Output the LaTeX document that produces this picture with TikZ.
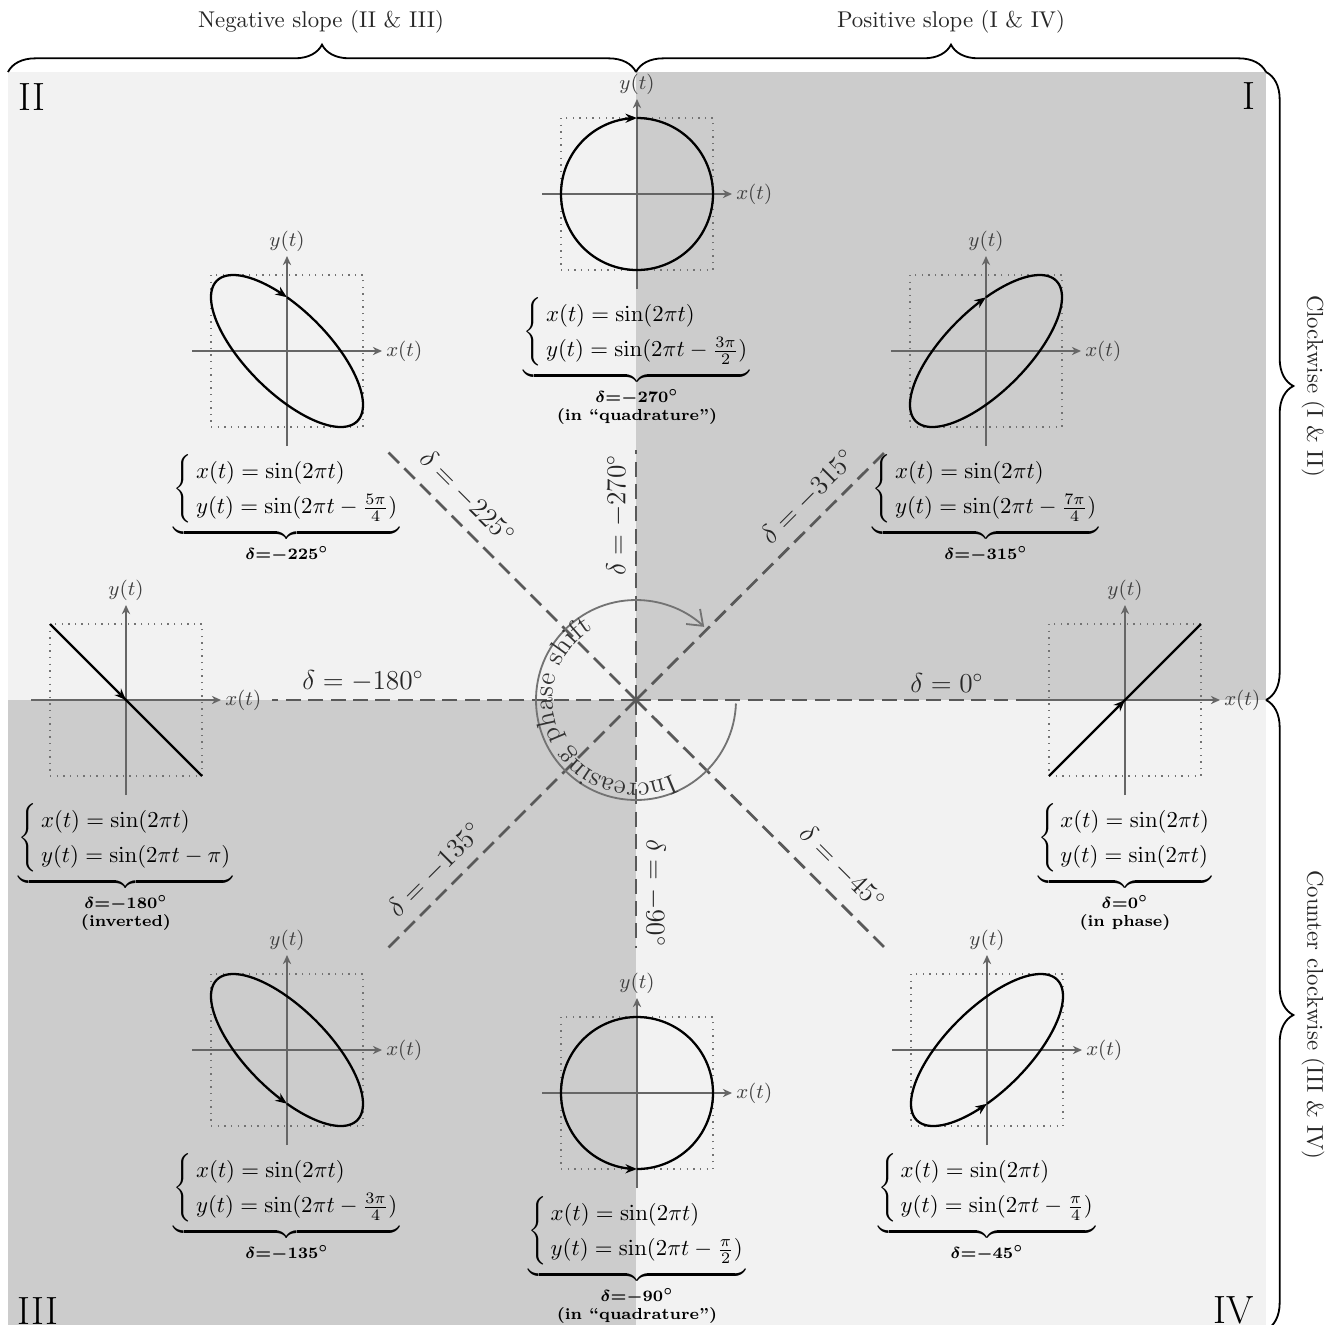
\documentclass[tikz,border=0pt]{standalone}
\usepackage{amsmath}
\usetikzlibrary{decorations.pathreplacing,decorations.text,arrows.meta}
\newcommand\lissa[6]{%
  \begin{scope}[shift={(#2,#3)}]
    \draw[dotsq] (-76,-76) rectangle (76,76);
    \draw[axisln] (-95,0) -- (95,0) node[lbl, anchor=west] (#1x) {$x(t)$};
    \draw[axisln] (0,95) -- (0,-95) node[lbl, anchor=south] (#1y) {$y(t)$};
    \draw[curve] plot[domain=0:1, samples=181] ({76*sin(360*\x)}, {-76*sin(360*\x-#4)});
    \node[eqn, anchor=north] (#1eq) at (0,102) {$\renewcommand\arraystretch{1.3}\underbrace{\left\{\begin{array}{@{\,}l@{}}x(t)=\sin(2\pi t)\\ y(t)=\sin(2\pi t#5)\end{array}\right.}$};
    \node[sublbl, anchor=north] (#1lb) at (0,195) {#6};
  \end{scope}}
\begin{document}
\begin{tikzpicture}[x=0.4386pt,y=-0.4386pt,
  light/.style={fill=black!5},
  dark/.style={fill=black!20},
  dotsq/.style={black!55, line width=0.6pt, dash pattern=on 0.6pt off 2.3pt},
  axisln/.style={black!60, line width=0.75pt, -{Stealth[length=4pt,width=3.6pt]}},
  curve/.style={black, line width=1pt, -{Stealth[length=5pt,width=4pt]}},
  lbl/.style={font=\small, text=black!75, inner sep=1.5pt},
  eqn/.style={inner sep=0pt},
  sublbl/.style={font=\scriptsize\bfseries\boldmath, align=center, inner sep=0pt},
  dline/.style={black!65, line width=1.2pt, dash pattern=on 6.5pt off 3.3pt},
  dlbl/.style={font=\large, text=black!85, inner sep=0pt},
  bracedec/.style={decorate, decoration={brace, amplitude=12pt}, thick},
  quad/.style={font=\LARGE, inner sep=0pt},
  side/.style={text=black!85, inner sep=0pt},
]
\useasboundingbox (0,0) rectangle (1337,1324);
% quadrant backgrounds
\fill[light] (8,72) rectangle (636,700);
\fill[dark] (636,72) rectangle (1266,700);
\fill[dark] (8,700) rectangle (636,1330);
\fill[light] (636,700) rectangle (1266,1330);
% quadrant labels
\node[quad] (qII) at (32,97) {II};
\node[quad] (qI) at (1249,96) {I};
\node[quad] (qIII) at (38,1311) {III};
\node[quad] (qIV) at (1234,1310) {IV};
% braces
\draw[bracedec] (8,72) -- (636,72);
\node[side] (neg) at (321,22) {Negative slope (II \& III)};
\draw[bracedec] (636,72) -- (1266,72);
\node[side] (pos) at (951,22) {Positive slope (I \& IV)};
\draw[bracedec] (1266,72) -- (1266,700);
\node[side, rotate=-90] (cw) at (1313,386) {Clockwise (I \& II)};
\draw[bracedec] (1266,700) -- (1266,1330);
\node[side, rotate=-90] (ccw) at (1313,1015) {Counter clockwise (III \& IV)};
% centre
\coordinate (O) at (636,700);
\coordinate (dW) at (272,700);
\coordinate (dE) at (1030,700);
\coordinate (dN) at (636,450);
\coordinate (dS) at (636,948);
\coordinate (dNW) at (388,452);
\coordinate (dNE) at (885,452);
\coordinate (dSW) at (388,948);
\coordinate (dSE) at (885,948);
\foreach \c in {dW,dE,dN,dS,dNW,dNE,dSW,dSE} \draw[dline] (O) -- (\c);
\node[dlbl] (t180) at (363,681) {$\delta = -180^\circ$};
\node[dlbl] (t0) at (947,683) {$\delta = 0^\circ$};
\node[dlbl, rotate=90] (t270) at (617,515) {$\delta = -270^\circ$};
\node[dlbl, rotate=-90] (t90) at (655,893) {$\delta = -90^\circ$};
\node[dlbl, rotate=-45] (t225) at (467,497) {$\delta = -225^\circ$};
\node[dlbl, rotate=45] (t315) at (808,497) {$\delta = -315^\circ$};
\node[dlbl, rotate=45] (t135) at (435,870) {$\delta = -135^\circ$};
\node[dlbl, rotate=-45] (t45) at (842,868) {$\delta = -45^\circ$};
% phase arc
\draw[black!55, line width=0.8pt, -{Straight Barb[length=6pt,width=9pt]}] ([shift={(2:100)}]O) arc[start angle=2, end angle=313, radius=100];
\path[decorate, decoration={text along path, text={|\large|Increasing phase shift}, text color=black!80, text align=left}] ([shift={(64:83)}]O) arc[start angle=64, end angle=275, radius=83];
% plots
\lissa{pa}{637}{194}{270}{-\frac{3\pi}{2}}{$\delta{=}{-}270^\circ$\\(in ``quadrature'')}
\lissa{pb}{287}{351}{225}{-\frac{5\pi}{4}}{$\delta{=}{-}225^\circ$}
\lissa{pc}{986}{351}{315}{-\frac{7\pi}{4}}{$\delta{=}{-}315^\circ$}
\lissa{pd}{126}{700}{180}{-\pi}{$\delta{=}{-}180^\circ$\\(inverted)}
\lissa{pe}{1125}{700}{0}{}{$\delta{=}0^\circ$\\(in phase)}
\lissa{pf}{287}{1050}{135}{-\frac{3\pi}{4}}{$\delta{=}{-}135^\circ$}
\lissa{pg}{637}{1093}{90}{-\frac{\pi}{2}}{$\delta{=}{-}90^\circ$\\(in ``quadrature'')}
\lissa{ph}{987}{1050}{45}{-\frac{\pi}{4}}{$\delta{=}{-}45^\circ$}
\end{tikzpicture}
\end{document}
